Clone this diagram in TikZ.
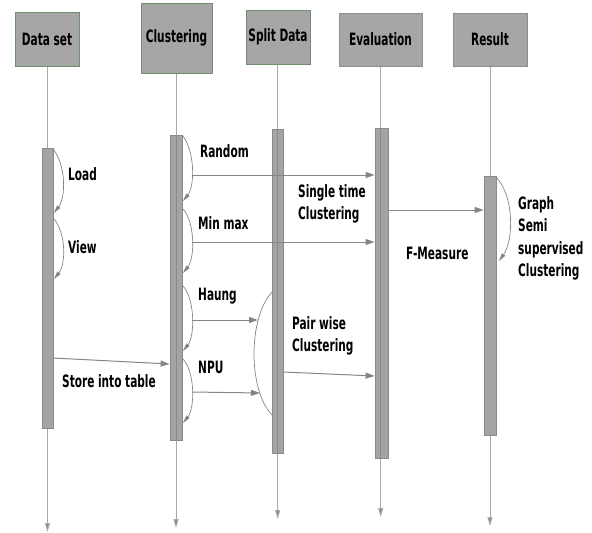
\documentclass[tikz,border=0pt]{standalone}
\usepackage{fontspec}
\setmainfont{DejaVu Sans Condensed}[FakeStretch=0.69]
\usetikzlibrary{arrows.meta}
\definecolor{boxfill}{HTML}{A6A6A6}
\definecolor{boxgreen}{HTML}{6E9070}
\definecolor{boxgray}{HTML}{8E8E8E}
\definecolor{barfill}{HTML}{A4A4A4}
\definecolor{bardraw}{HTML}{8A8A8A}
\definecolor{lifegray}{HTML}{A8A8A8}
\definecolor{arrgray}{HTML}{858585}
\tikzset{
  hdr/.style={draw=boxgreen, fill=boxfill, line width=1pt, inner sep=0pt,
     font=\fontsize{17}{22}\selectfont\bfseries},
  hdrg/.style={hdr, draw=boxgray},
  actbar/.style={draw=bardraw, fill=barfill, line width=0.8pt, inner sep=0pt},
  life/.style={draw=lifegray, line width=1pt, -{Triangle[length=9pt,width=5pt,fill=arrgray]}},
  inner/.style={draw=bardraw, line width=0.8pt},
  msg/.style={draw=arrgray, line width=1pt, -{Triangle[length=9pt,width=6pt]}, arrgray},
  selfarc/.style={draw=arrgray, line width=0.7pt, -{Triangle[length=8pt,width=4pt]}, arrgray},
  plainarc/.style={draw=arrgray, line width=0.7pt},
  lbl/.style={anchor=west, inner sep=0pt, align=left,
     font=\fontsize{17}{22.3}\selectfont\bfseries}
}
\begin{document}
\begin{tikzpicture}[x=1pt,y=-1pt]
\useasboundingbox (0,0) rectangle (592,533);
% headers
\node[hdr, minimum width=64pt, minimum height=54pt] (ds) at (47,39) {Data set};
\node[hdr, minimum width=71pt, minimum height=70pt] (cl) at (176.5,38) {Clustering};
\node[hdr, minimum width=64pt, minimum height=54pt] (sp) at (278,37) {Split Data};
\node[hdrg, minimum width=83pt, minimum height=53pt] (ev) at (380.5,39.5) {Evaluation};
\node[hdrg, minimum width=74pt, minimum height=53pt] (rs) at (490,39.5) {Result};
% lifeline ends
\coordinate (dsE) at (47.5,532);
\coordinate (clE) at (176,528);
\coordinate (spE) at (277.7,519);
\coordinate (evE) at (380.7,517);
\coordinate (rsE) at (490,526);
\draw[life] (ds.south -| dsE) -- (dsE);
\draw[life] (cl.south -| clE) -- (clE);
\draw[life] (sp.south -| spE) -- (spE);
\draw[life] (ev.south -| evE) -- (evE);
\draw[life] (rs.south -| rsE) -- (rsE);
% activation bars
\node[actbar, minimum width=11pt, minimum height=280pt] (b1) at (47.5,288) {};
\node[actbar, minimum width=12pt, minimum height=305pt] (b2) at (176,287.5) {};
\node[actbar, minimum width=11pt, minimum height=324pt] (b3) at (277.5,291) {};
\node[actbar, minimum width=13pt, minimum height=330pt] (b4) at (381.5,293) {};
\node[actbar, minimum width=12pt, minimum height=259pt] (b5) at (490,305.5) {};
\draw[inner] (b2.north -| clE) -- (b2.south -| clE);
\draw[inner] (b3.north -| spE) -- (b3.south -| spE);
\draw[inner] (b4.north -| evE) -- (b4.south -| evE);
% self arcs data set
\coordinate (l1) at (53,149);
\coordinate (l2) at (54,213);
\coordinate (v1) at (54,219);
\coordinate (v2) at (54,279);
\draw[selfarc] (l1) .. controls (66,165) and (66,197) .. (l2);
\draw[selfarc] (v1) .. controls (66,233) and (66,264) .. (v2);
% self arcs clustering
\coordinate (r1) at (182,135);
\coordinate (r2) at (183,201);
\coordinate (m1) at (183,209);
\coordinate (m2) at (183,273);
\coordinate (h1) at (183,286);
\coordinate (h2) at (183,351);
\coordinate (n1) at (183,359);
\coordinate (n2) at (183,423);
\draw[selfarc] (r1) .. controls (195,150) and (195,186) .. (r2);
\draw[selfarc] (m1) .. controls (195,222) and (195,258) .. (m2);
\draw[selfarc] (h1) .. controls (195,299) and (195,336) .. (h2);
\draw[selfarc] (n1) .. controls (195,372) and (195,408) .. (n2);
% split data arc
\coordinate (s1) at (272,292);
\coordinate (s2) at (272,415);
\draw[plainarc] (s1) .. controls (248,318) and (248,390) .. (s2);
% result arc
\coordinate (g1) at (496,177);
\coordinate (g2) at (499,261);
\draw[selfarc] (g1) .. controls (514,195) and (514,240) .. (g2);
% messages
\coordinate (ra) at (192,175);
\coordinate (ma) at (192,242);
\coordinate (ha) at (192,320);
\coordinate (hb) at (258,320);
\coordinate (na) at (192,392);
\coordinate (nb) at (260,393);
\coordinate (sta) at (53,358);
\coordinate (ea) at (388,210);
\coordinate (pa) at (283,372);
\draw[msg] (ra) -- (ra -| b4.west);
\draw[msg] (ma) -- (ma -| b4.west);
\draw[msg] (ha) -- (hb);
\draw[msg] (na) -- (nb);
\draw[msg] (sta) -- (b2.west |- 0,364);
\draw[msg] (ea) -- (ea -| b5.west);
\draw[msg] (pa) -- (b4.west |- 0,376);
% labels
\node[lbl] (tLoad) at (68,174) {Load};
\node[lbl] (tView) at (68,247) {View};
\node[lbl] (tRandom) at (200,151) {Random};
\node[lbl] (tMin) at (198,223) {Min max};
\node[lbl] (tHaung) at (198,296) {Haung};
\node[lbl] (tNPU) at (198,367) {NPU};
\node[lbl] (tStore) at (62,381) {Store into table};
\node[lbl] (tSingle) at (298,204) {Single time\\Clustering};
\node[lbl] (tF) at (406,253) {F-Measure};
\node[lbl] (tGraph) at (518,238.5) {Graph\\Semi\\supervised\\Clustering};
\node[lbl] (tPair) at (292,336) {Pair wise\\Clustering};
\end{tikzpicture}
\end{document}
